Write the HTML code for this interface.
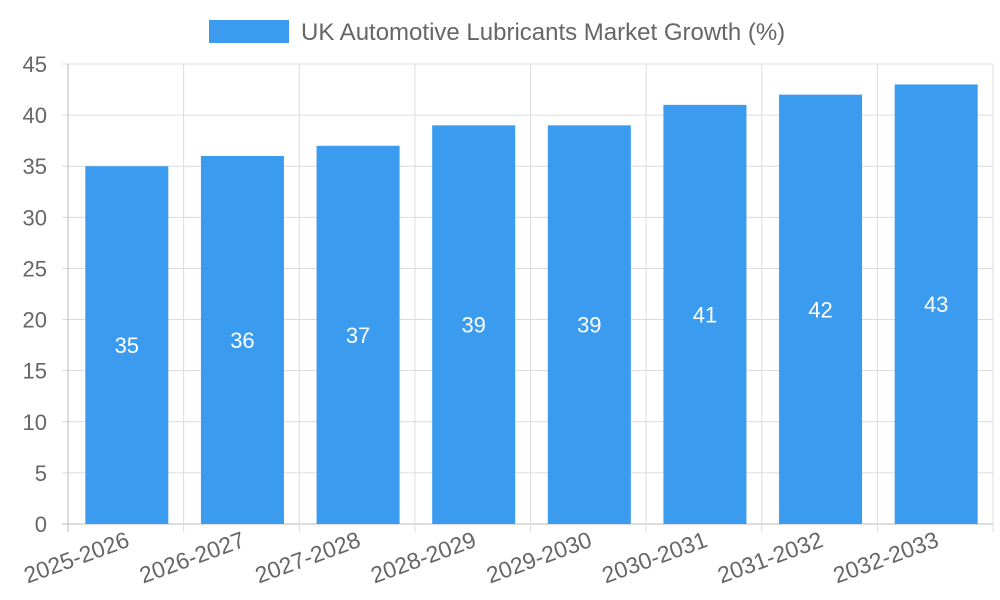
<!DOCTYPE html>
<html><head><meta charset="utf-8"><style>
body{margin:0;background:#fff;}
svg{display:block;font-family:"Liberation Sans",sans-serif;}
</style></head><body>
<svg id="c" width="1000" height="600">
<g>
<rect x="209" y="20" width="80" height="23" fill="#3a9bef"></rect>
<text x="301" y="40" font-size="24" fill="#666">UK Automotive Lubricants Market Growth (%)</text>
</g>
<g id="grid"></g><g id="bars"></g><g id="labels"></g>
</svg>
<script>
const categories=["2025-2026","2026-2027","2027-2028","2028-2029","2029-2030","2030-2031","2031-2032","2032-2033"];
const values=[35,36,37,39,39,41,42,43];
const yTicks=[0,5,10,15,20,25,30,35,40,45];
const NS="http://www.w3.org/2000/svg";
const L=68,R=993,T=64,B=524,yMax=45;
const bw=(R-L)/categories.length;
const y=v=>B-(v/yMax)*(B-T);
const x=i=>L+i*bw;
function mk(tag,attrs,parent,txt){const e=document.createElementNS(NS,tag);for(const k in attrs)e.setAttribute(k,attrs[k]);if(txt!==undefined)e.textContent=txt;document.getElementById(parent).appendChild(e);return e;}
yTicks.forEach(t=>{
 const g=mk("line",{x1:62,x2:R,y1:y(t),y2:y(t),stroke:t===0?"#bbb":"#dcdcdc","stroke-width":1},"grid");
 
 
 const tl=mk("text",{x:47,y:y(t)+8,"font-size":22,fill:"#666","text-anchor":"end"},"labels",t);
 
 
});
for(let i=0;i<=categories.length;i++){
 const g=mk("line",{x1:x(i),x2:x(i),y1:T,y2:B+8,stroke:i===0?"#bbb":"#dcdcdc","stroke-width":1},"grid");
 
 
}
categories.forEach((c,i)=>{
 const cx=x(i)+bw/2+1,w=83;
 const b=mk("rect",{x:cx-w/2,y:y(values[i]),width:w,height:B-y(values[i]),fill:"#3a9bef"},"bars");
 
 
 const v=mk("text",{x:cx,y:(y(values[i])+B)/2+8,"font-size":22,fill:"#fff","text-anchor":"middle"},"labels",values[i]);
 
 
 const xl=mk("text",{x:cx+4,y:B+22,"font-size":23,fill:"#666","text-anchor":"end",transform:`rotate(-20 ${cx+4} ${B+22})`},"labels",c);
 
 
});
</script>
</body></html>
